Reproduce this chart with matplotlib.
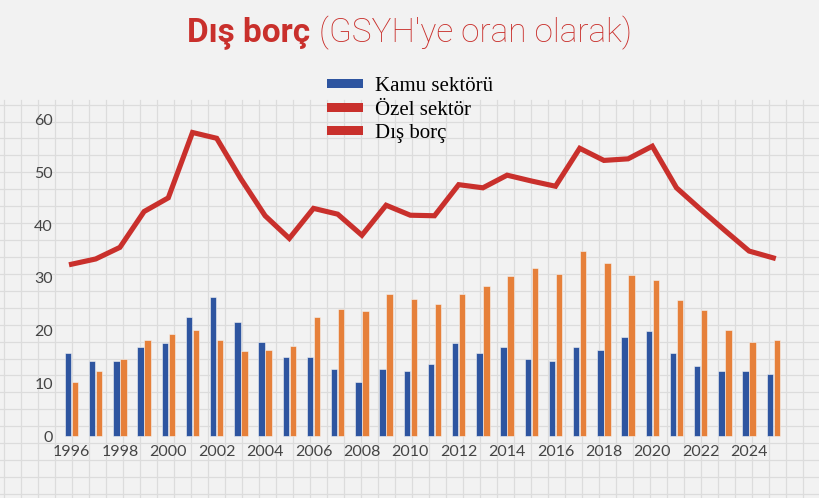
import matplotlib
matplotlib.use("Agg")
import matplotlib.pyplot as plt
from matplotlib.lines import Line2D
from matplotlib.patches import Patch
import numpy as np

# --- data (share of GDP, %) ---
years = list(range(1996, 2026))
kamu = [15.7, 14.3, 14.3, 16.8, 17.7, 22.6, 26.4, 21.7, 17.9, 15.0,
        15.0, 12.7, 10.2, 12.7, 12.3, 13.6, 17.7, 15.7, 16.8, 14.6,
        14.3, 16.8, 16.3, 18.8, 19.9, 15.7, 13.3, 12.3, 12.3, 11.8]
ozel = [10.2, 12.3, 14.6, 18.3, 19.3, 20.1, 18.3, 16.1, 16.3, 17.1,
        22.5, 24.2, 23.7, 26.9, 26.0, 25.0, 26.9, 28.5, 30.4, 31.8,
        30.8, 35.2, 32.8, 30.6, 29.6, 25.8, 24.0, 20.1, 17.9, 18.2]
dis_borc = [32.6, 33.6, 35.8, 42.6, 45.2, 57.6, 56.5, 48.8, 41.8, 37.5,
            43.2, 42.1, 38.1, 43.8, 41.9, 41.8, 47.7, 47.1, 49.5, 48.4,
            47.4, 54.6, 52.3, 52.6, 55.0, 47.1, 43.0, 39.0, 35.1, 33.8]
xtick_years = list(range(1996, 2025, 2))
ytick_vals = [0, 10, 20, 30, 40, 50, 60]
legend_labels = ["Kamu sektörü", "Özel sektör", "Dış borç"]

BLUE = "#2e55a0"
ORANGE = "#e6803a"
RED = "#c9302c"
BG = "#f2f2f2"

W, H = 820, 498
fig = plt.figure(figsize=(W / 100, H / 100), dpi=100, facecolor=BG)

# graph paper background
grid_c = "#dcdcdc"
for gx in np.arange(4, W, 17.0):
    fig.add_artist(Line2D([gx / W, gx / W], [0, 1 - 100 / H], transform=fig.transFigure,
                          color=grid_c, lw=0.9, zorder=0))
for gy in np.arange(494, 100, -16.93):
    fig.add_artist(Line2D([0, 1], [1 - gy / H, 1 - gy / H], transform=fig.transFigure,
                          color=grid_c, lw=0.9, zorder=0))

# axes placement: 1995.5 -> 59.4px, 2026 -> 797.5px ; -1 -> 441.3px, 62 -> 109.3px
ax = fig.add_axes([59.4 / W, 1 - 441.3 / H, (797.5 - 59.4) / W, (441.3 - 109.3) / H])
ax.set_facecolor("none")
ax.set_xlim(1995.5, 2026)
ax.set_ylim(-1, 62)
for s in ax.spines.values():
    s.set_visible(False)

x = np.array(years)
bw = 0.26
ax.bar(x - 0.145, kamu, width=bw, color=BLUE, edgecolor="#f4f4f4", linewidth=0.4, zorder=2)
ax.bar(x + 0.145, ozel, width=bw, color=ORANGE, edgecolor="#f4f4f4", linewidth=0.4, zorder=2)
ax.plot(x, dis_borc, color=RED, lw=3.7, solid_joinstyle="miter", zorder=3)

tick_font = dict(family="Lato", size=11.5, color="#454545")
ax.set_yticks(ytick_vals)
ax.set_yticklabels([str(v) for v in ytick_vals], **tick_font)
ax.set_xticks(xtick_years)
ax.set_xticklabels([str(v) for v in xtick_years], **tick_font)
ax.tick_params(axis="both", length=0)
ax.tick_params(axis="y", pad=4.6)
ax.tick_params(axis="x", pad=3)

# legend
handles = [Patch(facecolor=BLUE), Patch(facecolor=RED), Patch(facecolor=RED)]
fig.legend(handles, legend_labels, loc="upper left", bbox_to_anchor=(327 / W, 1 - 77 / H),
           frameon=False, borderpad=0, borderaxespad=0, handlelength=1.75, handleheight=0.28,
           handletextpad=0.55, labelspacing=0.22,
           prop=dict(family="Liberation Serif", size=15))

# title in two weights, centred together
fig.canvas.draw()
r = fig.canvas.get_renderer()
t1 = fig.text(0, 1 - 33 / H, "Dış borç", family="Roboto", weight="bold", size=24,
              color=RED, va="center", ha="left")
t2 = fig.text(0, 1 - 33 / H, " (GSYH'ye oran olarak)", family="Roboto", weight="light",
              size=24, color=RED, va="center", ha="left")
w1 = t1.get_window_extent(r).width
w2 = t2.get_window_extent(r).width
x0 = 409.5 - (w1 + w2) / 2
t1.set_x(x0 / W)
t2.set_x((x0 + w1) / W)

fig.savefig("out.png", dpi=100, facecolor=BG)
